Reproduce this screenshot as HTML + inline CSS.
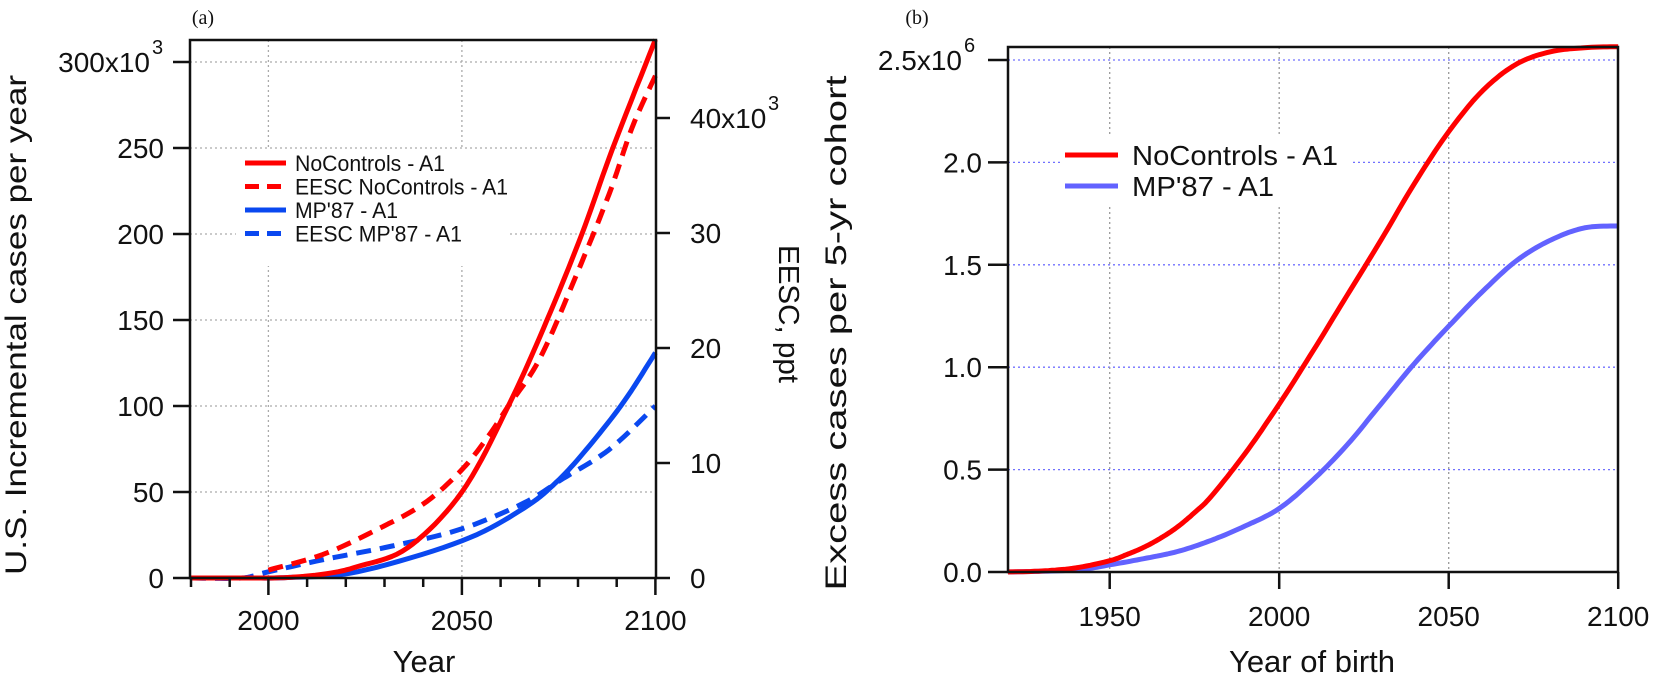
<!DOCTYPE html>
<html><head><meta charset="utf-8"><style>
html,body{margin:0;padding:0;background:#fff;}
svg{display:block;font-family:"Liberation Sans",Arial,sans-serif;}
</style></head><body>
<svg id="s" width="1656" height="678" viewBox="0 0 1656 678" xmlns="http://www.w3.org/2000/svg">
<g id="g"></g>
</svg>
<script>
const NS="http://www.w3.org/2000/svg";const G=document.getElementById('g');
function el(t,a,txt){const e=document.createElementNS(NS,t);for(const k in a)e.setAttribute(k,a[k]);if(txt!==undefined)e.textContent=txt;G.appendChild(e);return e;}
function line(x1,y1,x2,y2,st,w,dash){const a={x1,y1,x2,y2,stroke:st,'stroke-width':w};if(dash)a['stroke-dasharray']=dash;return el('line',a);}
function text(x,y,s,o){const a=Object.assign({x,y,'font-size':28,fill:'#111'},o||{});return el('text',a,s);}
// ---------- Panel a ----------
const ax=y=>191+(y-1980)*3.87, ay=v=>578-v*1.72;
for(let v=50;v<=300;v+=50)line(190,ay(v),656,ay(v),'#aaa',1.3,'2 3');
[2000,2050].forEach(y=>line(ax(y),40,ax(y),578,'#aaa',1.3,'2 3'));
function path(pts,fx,fy,col,w,dash){
 let d='';pts.forEach((p,i)=>{d+=(i?'L':'M')+fx(p[0]).toFixed(1)+','+fy(p[1]).toFixed(1);});
 const a={d,fill:'none',stroke:col,'stroke-width':w,'stroke-linejoin':'round'};if(dash)a['stroke-dasharray']=dash;el('path',a);}
function smooth(ctrl){const out=[];for(let i=0;i<ctrl.length-1;i++){const p0=ctrl[Math.max(0,i-1)],p1=ctrl[i],p2=ctrl[i+1],p3=ctrl[Math.min(ctrl.length-1,i+2)];
 for(let t=0;t<1;t+=0.1){const t2=t*t,t3=t2*t;const f=(a,b,c,d)=>0.5*((2*b)+(-a+c)*t+(2*a-5*b+4*c-d)*t2+(-a+3*b-3*c+d)*t3);out.push([f(p0[0],p1[0],p2[0],p3[0]),f(p0[1],p1[1],p2[1],p3[1])]);}}
 out.push(ctrl[ctrl.length-1]);return out;}
const redS=smooth([[1980,0],[1995,0],[2005,0.3],[2015,2.5],[2023,6.6],[2036,17.6],[2050,50],[2062,100],[2072,150],[2081,200],[2089,250],[2100,313]]);
const redD=smooth([[2000,4.6],[2014,13.6],[2027,27],[2040,43],[2050,63],[2057,83],[2062,100],[2070,127],[2079,173],[2088,223],[2094,262],[2100,292]]);
const bluS=smooth([[1980,0],[1995,0],[2005,0.3],[2023,3.6],[2050,21.6],[2066,40.6],[2075,57],[2083,77],[2092,103],[2100,131]]);
const bluD=smooth([[1980,0],[1993,0],[2000,3.6],[2014,10.6],[2032,18.6],[2050,28.6],[2066,43.6],[2076,57.6],[2088,74.6],[2100,100]]);
path(bluD,ax,ay,'#0a48f0',5,'15 9');
path(bluS,ax,ay,'#0a48f0',5);
path(redD,ax,ay,'#f00',5,'15 9');
path(redS,ax,ay,'#f00',5);
el('rect',{x:236,y:150,width:272,height:116,fill:'#fff'});
const lg=[['NoControls - A1','#f00',''],['EESC NoControls - A1','#f00','14 8'],["MP'87 - A1",'#0a48f0',''],["EESC MP'87 - A1",'#0a48f0','14 8']];
lg.forEach((l,i)=>{const y=163+i*23.5;line(245,y,286,y,l[1],5,l[2]);text(295,y+8,l[0],{'font-size':22,textLength:[150,213,103,167][i],lengthAdjust:'spacingAndGlyphs'});});
el('rect',{x:190,y:40,width:466,height:538,fill:'none',stroke:'#111','stroke-width':2.5});
for(let v=0;v<=300;v+=50){line(173,ay(v),190,ay(v),'#111',2.5);}
[[0,'0'],[50,'50'],[100,'100'],[150,'150'],[200,'200'],[250,'250']].forEach(([v,s])=>text(164,ay(v)+10,s,{'text-anchor':'end'}));
text(150,ay(300)+10,'300x10',{'text-anchor':'end'});text(152,ay(300)-8,'3',{'font-size':20});
for(let y=1980;y<=2100;y+=10){const maj=y%50==0;line(ax(y),578,ax(y),maj?595:587,'#111',2.5);}
[2000,2050,2100].forEach(y=>text(ax(y),630,String(y),{'text-anchor':'middle'}));
text(424,672,'Year',{'text-anchor':'middle','font-size':31});
const ry=v=>578-v*11.5;
for(let v=0;v<=40;v+=10)line(656,ry(v),670,ry(v),'#111',2.5);
[[0,'0'],[10,'10'],[20,'20'],[30,'30']].forEach(([v,s])=>text(690,ry(v)+10,s));
text(690,ry(40)+10,'40x10');text(768,ry(40)-8,'3',{'font-size':20});
text(0,0,'U.S. Incremental cases per year',{'text-anchor':'middle','font-size':30,textLength:500,lengthAdjust:'spacingAndGlyphs',transform:'translate(26,325) rotate(-90)'});
text(0,0,'EESC, ppt',{'text-anchor':'middle','font-size':29,textLength:138,lengthAdjust:'spacingAndGlyphs',transform:'translate(779,314) rotate(90)'});
text(203,24,'(a)',{'font-family':'"Liberation Serif",serif','font-size':20,'text-anchor':'middle'});
// ---------- Panel b ----------
const bx=y=>1008+(y-1920)*3.39, by=v=>572-v*204.8;
for(let v=0.5;v<=2.5;v+=0.5)line(1008,by(v),1618,by(v),'#7070ff',1.3,'2 3');
[1950,2000,2050].forEach(y=>line(bx(y),47,bx(y),572,'#999',1.3,'2 3'));
const rB=smooth([[1920,0],[1930,0.005],[1940,0.02],[1950,0.055],[1955,0.085],[1960,0.12],[1965,0.165],[1970,0.22],[1975,0.29],[1980,0.37],[1990,0.58],[2000,0.82],[2010,1.08],[2020,1.35],[2030,1.62],[2040,1.9],[2050,2.15],[2060,2.35],[2070,2.48],[2080,2.54],[2090,2.56],[2100,2.565]]);
const bB=smooth([[1920,0],[1940,0.01],[1950,0.035],[1960,0.065],[1970,0.1],[1980,0.155],[1990,0.225],[2000,0.31],[2010,0.45],[2020,0.62],[2030,0.82],[2040,1.02],[2050,1.2],[2060,1.37],[2070,1.52],[2080,1.62],[2090,1.68],[2100,1.69]]);
path(bB,bx,by,'#6262ff',5);
path(rB,bx,by,'#f00',5);
el('rect',{x:1060,y:136,width:290,height:68,fill:'#fff'});
line(1065,155,1118,155,'#f00',5);text(1132,165,'NoControls - A1',{'font-size':28,textLength:206,lengthAdjust:'spacingAndGlyphs'});
line(1065,186,1118,186,'#6262ff',5);text(1132,196,"MP'87 - A1",{'font-size':28,textLength:142,lengthAdjust:'spacingAndGlyphs'});
el('rect',{x:1008,y:47,width:610,height:525,fill:'none',stroke:'#111','stroke-width':2.5});
for(let v=0;v<=2.5;v+=0.5)line(988,by(v),1008,by(v),'#111',2.5);
[[0,'0.0'],[0.5,'0.5'],[1,'1.0'],[1.5,'1.5'],[2,'2.0']].forEach(([v,s])=>text(982,by(v)+10,s,{'text-anchor':'end'}));
text(962,by(2.5)+10,'2.5x10',{'text-anchor':'end'});text(964,by(2.5)-8,'6',{'font-size':20});
[1950,2000,2050,2100].forEach(y=>{line(bx(y),572,bx(y),589,'#111',2.5);text(bx(y),626,String(y),{'text-anchor':'middle'});});
text(1312,672,'Year of birth',{'text-anchor':'middle','font-size':31});
text(0,0,'Excess cases per 5-yr cohort',{'text-anchor':'middle','font-size':30,textLength:515,lengthAdjust:'spacingAndGlyphs',transform:'translate(846,333) rotate(-90)'});
text(917,24,'(b)',{'font-family':'"Liberation Serif",serif','font-size':20,'text-anchor':'middle'});
</script>
</body></html>
